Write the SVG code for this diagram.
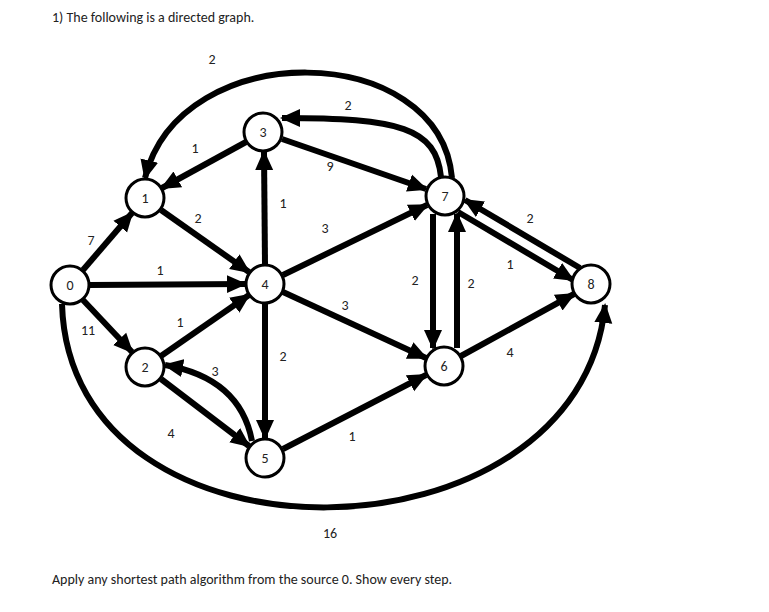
<svg xmlns="http://www.w3.org/2000/svg" width="769" height="612" viewBox="0 0 769 612">
<style>
text{font-family:Calibri,"Liberation Sans",sans-serif;font-size:14px;fill:#222}
.e{stroke:#000;stroke-width:6;fill:none;marker-end:url(#a)}
.n circle{fill:#fff;stroke:#000;stroke-width:3}
.n text{text-anchor:middle;font-size:14px}
.l{text-anchor:middle}
</style>
<defs><marker id="a" markerUnits="userSpaceOnUse" markerWidth="20" markerHeight="20" refX="18" refY="10" orient="auto"><path d="M0,1 L20,10 L0,19 Z" fill="#000"/></marker></defs>
<rect width="769" height="612" fill="#fff"/>
<text x="52" y="22">1)  The following is a directed graph.</text>
<text x="52" y="584">Apply any shortest path algorithm from the source 0. Show every step.</text>
<g id="connectors">
<path class="e" d="M83,270 L132,213"/>
<path class="e" d="M90,285 L245,284"/>
<path class="e" d="M83,300 L132,352"/>
<path class="e" d="M161,210 L249,272"/>
<path class="e" d="M246,142 L162,188"/>
<path class="e" d="M265,264 L264,152"/>
<path class="e" d="M282,139 L426,189"/>
<path class="e" d="M283,275 L427,205"/>
<path class="e" d="M283,292 L426,358"/>
<path class="e" d="M265,304 L265,438"/>
<path class="e" d="M161,356 L249,295"/>
<path class="e" d="M161,379 L249,446"/>
<path class="e" d="M252,441 Q240,378 165,365"/>
<path class="e" d="M283,449 L426,375"/>
<path class="e" d="M433,214 L433,348"/>
<path class="e" d="M457,348 L457,214"/>
<path class="e" d="M458,212 L573,280"/>
<path class="e" d="M580,268 L465,200"/>
<path class="e" d="M461,356 L574,294"/>
<path class="e" d="M441,177 C436,128 400,118 282,118"/>
<path class="e" d="M452,178 C440,40 180,35 145,178"/>
<path class="e" d="M62,304 C70,580 580,570 605,305"/>
</g>
<g id="labels">
<text class="l" x="212" y="64">2</text>
<text class="l" x="348" y="110">2</text>
<text class="l" x="195" y="153">1</text>
<text class="l" x="330" y="171">9</text>
<text class="l" x="283" y="208">1</text>
<text class="l" x="198" y="223">2</text>
<text class="l" x="325" y="233">3</text>
<text class="l" x="91" y="245">7</text>
<text class="l" x="160" y="275">1</text>
<text class="l" x="88" y="335">11</text>
<text class="l" x="180" y="327">1</text>
<text class="l" x="345" y="310">3</text>
<text class="l" x="215" y="376">3</text>
<text class="l" x="283" y="361">2</text>
<text class="l" x="171" y="438">4</text>
<text class="l" x="352" y="441">1</text>
<text class="l" x="415" y="285">2</text>
<text class="l" x="471" y="288">2</text>
<text class="l" x="510" y="269">1</text>
<text class="l" x="530" y="223">2</text>
<text class="l" x="510" y="357">4</text>
<text class="l" x="330" y="538">16</text>
</g>
<g id="n0" class="n"><circle cx="70" cy="285" r="19"/><text x="70" y="290">0</text></g>
<g id="n1" class="n"><circle cx="145" cy="198" r="19"/><text x="145" y="203">1</text></g>
<g id="n2" class="n"><circle cx="145" cy="367" r="19"/><text x="145" y="372">2</text></g>
<g id="n3" class="n"><circle cx="263" cy="132" r="19"/><text x="263" y="137">3</text></g>
<g id="n4" class="n"><circle cx="265" cy="284" r="19"/><text x="265" y="289">4</text></g>
<g id="n5" class="n"><circle cx="265" cy="458" r="19"/><text x="265" y="463">5</text></g>
<g id="n6" class="n"><circle cx="444" cy="366" r="19"/><text x="444" y="371">6</text></g>
<g id="n7" class="n"><circle cx="445" cy="196" r="19"/><text x="445" y="201">7</text></g>
<g id="n8" class="n"><circle cx="591" cy="284" r="19"/><text x="591" y="289">8</text></g>
</svg>
